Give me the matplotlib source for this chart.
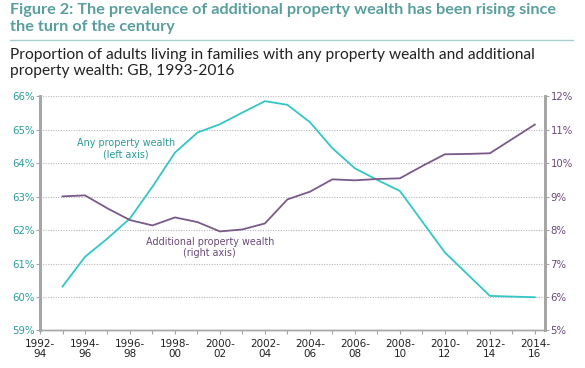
import matplotlib
matplotlib.use("Agg")
import matplotlib.pyplot as plt
from matplotlib.lines import Line2D

labels = ["1992-\n94", "1994-\n96", "1996-\n98", "1998-\n00", "2000-\n02", "2002-\n04",
          "2004-\n06", "2006-\n08", "2008-\n10", "2010-\n12", "2012-\n14", "2014-\n16"]
any_property = [60.31, 61.20, 61.75, 62.35, 63.30, 64.32, 64.92, 65.17, 65.52, 65.86, 65.75,
                65.23, 64.45, 63.85, 63.50, 63.17, 62.25, 61.33, 60.68, 60.03, 60.01, 59.99]
additional = [9.01, 9.04, 8.65, 8.30, 8.14, 8.38, 8.24, 7.96, 8.02, 8.20, 8.92,
              9.15, 9.52, 9.49, 9.53, 9.55, 9.92, 10.27, 10.28, 10.30, 10.73, 11.16]
left_ticks = [59, 60, 61, 62, 63, 64, 65, 66]
right_ticks = [5, 6, 7, 8, 9, 10, 11, 12]

TEAL_T = "#5a9e9e"
CYAN = "#33c6c6"
TEAL_LAB = "#2a9a9a"
PURPLE = "#7a5a88"
PURPLE_LAB = "#6a4878"
GRAY = "#a6a6a6"

fig = plt.figure(figsize=(5.85, 3.68), dpi=100)
ax = fig.add_axes([0.0684, 0.1024, 0.8632, 0.6354])
ax2 = ax.twinx()

xs = list(range(len(any_property)))
ax.plot(xs, any_property, color=CYAN, lw=1.3, zorder=3)
ax2.plot(xs, additional, color=PURPLE, lw=1.3, zorder=3)

ax.set_xlim(-1, 21.45)
ax.set_ylim(59, 66)
ax2.set_ylim(5, 12)

ax.set_yticks(left_ticks)
ax.set_yticklabels([f"{v}%" for v in left_ticks], color=TEAL_LAB, fontsize=7.3,
                   family="DejaVu Sans")
ax2.set_yticks(right_ticks)
ax2.set_yticklabels([f"{v}%" for v in right_ticks], color=PURPLE_LAB, fontsize=7.3,
                    family="DejaVu Sans")
for v in left_ticks[1:]:
    ax.axhline(v, color="#b8b8b8", lw=0.8, ls=(0, (1.0, 1.3)), zorder=1)

ax.set_xticks(range(-1, 22, 2))
ax.set_xticklabels(labels, fontsize=7.5, family="DejaVu Sans", color="#222222",
                   linespacing=1.0)
ax.set_xticks(range(-1, 22), minor=True)
ax.tick_params(axis="x", which="both", length=3, color=GRAY, width=0.8, pad=3)
ax.tick_params(axis="y", length=3, color=GRAY, width=0.8, pad=1)
ax2.tick_params(axis="y", length=3, color=GRAY, width=0.8, pad=1)

for a in (ax, ax2):
    a.spines["top"].set_visible(False)
    for s in ("left", "right", "bottom"):
        a.spines[s].set_color(GRAY)
    a.spines["left"].set_linewidth(2)
    a.spines["right"].set_linewidth(2)
    a.spines["bottom"].set_linewidth(1)

ax.text(2.83, 64.44, "Any property wealth\n(left axis)", color=TEAL_LAB, fontsize=6.9,
        ha="center", va="center", family="DejaVu Sans", linespacing=1.2)
ax2.text(6.55, 7.48, "Additional property wealth\n(right axis)", color=PURPLE_LAB, fontsize=6.9,
         ha="center", va="center", family="DejaVu Sans", linespacing=1.2)

fig.text(10/585, 1 - 18.5/368, "Figure 2: The prevalence of additional property wealth has been rising since\nthe turn of the century",
         color=TEAL_T, fontsize=11.7, fontweight="bold", family="Lato", ha="left", va="center",
         linespacing=1.22)
fig.add_artist(Line2D([10/585, 573/585], [1 - 40/368, 1 - 40/368], color="#a8cfcf", lw=1.0))
fig.text(10/585, 1 - 63/368, "Proportion of adults living in families with any property wealth and additional\nproperty wealth: GB, 1993-2016",
         color="#222222", fontsize=11.15, family="Lato", ha="left", va="center",
         linespacing=1.22)

fig.savefig("out.png", dpi=100)
